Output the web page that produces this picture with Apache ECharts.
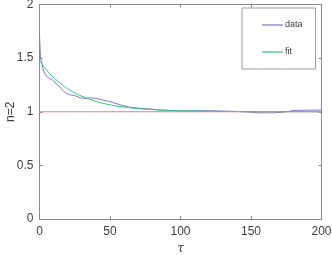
<!DOCTYPE html>
<html><head><meta charset="utf-8">
<script src="https://cdn.jsdelivr.net/npm/echarts@6/dist/echarts.min.js"></script>
<style>html,body{margin:0;padding:0;background:#fff}#c{width:332px;height:255px}</style>
</head><body><div id="c"></div>
<script>
const dataTau = [0,0.7,1.5,2.5,3.5,5,7,9,11,13,15,18,21,25,29,33,37,40,43,50,57,64,71,78,85,92,100,110,120,130,140,150,155,160,165,170,175,180,190,200];
const dataVal = [1.72,1.50,1.47,1.40,1.36,1.33,1.31,1.30,1.27,1.25,1.22,1.18,1.16,1.15,1.13,1.125,1.13,1.125,1.115,1.095,1.065,1.042,1.033,1.026,1.017,1.012,1.008,1.01,1.01,1.006,1.003,0.996,0.99,0.99,0.99,0.993,1.0,1.012,1.015,1.015];
const fitTau = [0,5,10,15,20,25,30,35,40,50,60,70,80,90,100,120,150,200];
const fitVal = [1.48,1.39,1.32,1.265,1.215,1.175,1.145,1.12,1.097,1.065,1.044,1.029,1.02,1.013,1.009,1.004,1.001,1.0];
const refTau = [0,200];
const refVal = [1,1];
const xTicks = [0,50,100,150,200];
const yTicks = [0,0.5,1,1.5,2];

const pairs = (xs, ys) => xs.map((x,i)=>[x,ys[i]]);
const axisColor = '#8a8a8a';
const txt = '#404040';
const chart = echarts.init(document.getElementById('c'), null, {renderer:'canvas'});
const baseX = {type:'value', min:xTicks[0], max:xTicks[xTicks.length-1], interval:xTicks[1]-xTicks[0],
  axisLine:{show:true,onZero:false,lineStyle:{color:axisColor,width:1}},
  axisTick:{show:true,inside:true,length:3,lineStyle:{color:axisColor}},
  splitLine:{show:false}};
const baseY = {type:'value', min:yTicks[0], max:yTicks[yTicks.length-1], interval:yTicks[1]-yTicks[0],
  axisLine:{show:true,onZero:false,lineStyle:{color:axisColor,width:1}},
  axisTick:{show:true,inside:true,length:3,lineStyle:{color:axisColor}},
  splitLine:{show:false}};
chart.setOption({
  animation:false,
  grid:{left:39.5,right:10.5,top:4.5,bottom:36,containLabel:false,outerBoundsMode:'none'},
  legend:{data:['data','fit'], orient:'vertical', left:242, top:8,
    padding:[10,13,10,20], itemGap:13, itemWidth:21, itemHeight:1.2, icon:'rect',
    borderColor:'#999', borderWidth:1, backgroundColor:'#fff',
    textStyle:{fontSize:9,color:txt,fontFamily:'Liberation Sans',lineHeight:14,padding:[0,0,0,-3]}},
  xAxis:[
    Object.assign({}, baseX, {position:'bottom',
      axisLabel:{show:true,color:txt,fontSize:12,margin:7,fontFamily:'Liberation Sans'},
      name:'τ', nameLocation:'middle', nameGap:17,
      nameTextStyle:{fontSize:12,color:txt,fontStyle:'italic',fontFamily:'DejaVu Serif'}}),
    Object.assign({}, baseX, {position:'top', axisLabel:{show:false}})
  ],
  yAxis:[
    Object.assign({}, baseY, {position:'left',
      axisLabel:{show:true,color:txt,fontSize:12,margin:6,fontFamily:'Liberation Sans'},
      name:'n=2', nameLocation:'middle', nameGap:23, nameMoveOverlap:false,
      nameTextStyle:{fontSize:12,color:txt,fontFamily:'Liberation Sans'}}),
    Object.assign({}, baseY, {position:'right', axisLabel:{show:false}})
  ],
  series:[
    {name:'data', type:'line', data:pairs(dataTau,dataVal), symbol:'none', lineStyle:{color:'#7a7ac6',width:1}, itemStyle:{color:'#7a7ac6'}},
    {name:'fit', type:'line', data:pairs(fitTau,fitVal), smooth:true, symbol:'none', lineStyle:{color:'#33c283',width:1}, itemStyle:{color:'#33c283'}},
    {name:'ref', type:'line', data:pairs(refTau,refVal), symbol:'none', lineStyle:{color:'#ee7c7c',width:1}, itemStyle:{color:'#ee7c7c'}}
  ]
});
</script></body></html>
